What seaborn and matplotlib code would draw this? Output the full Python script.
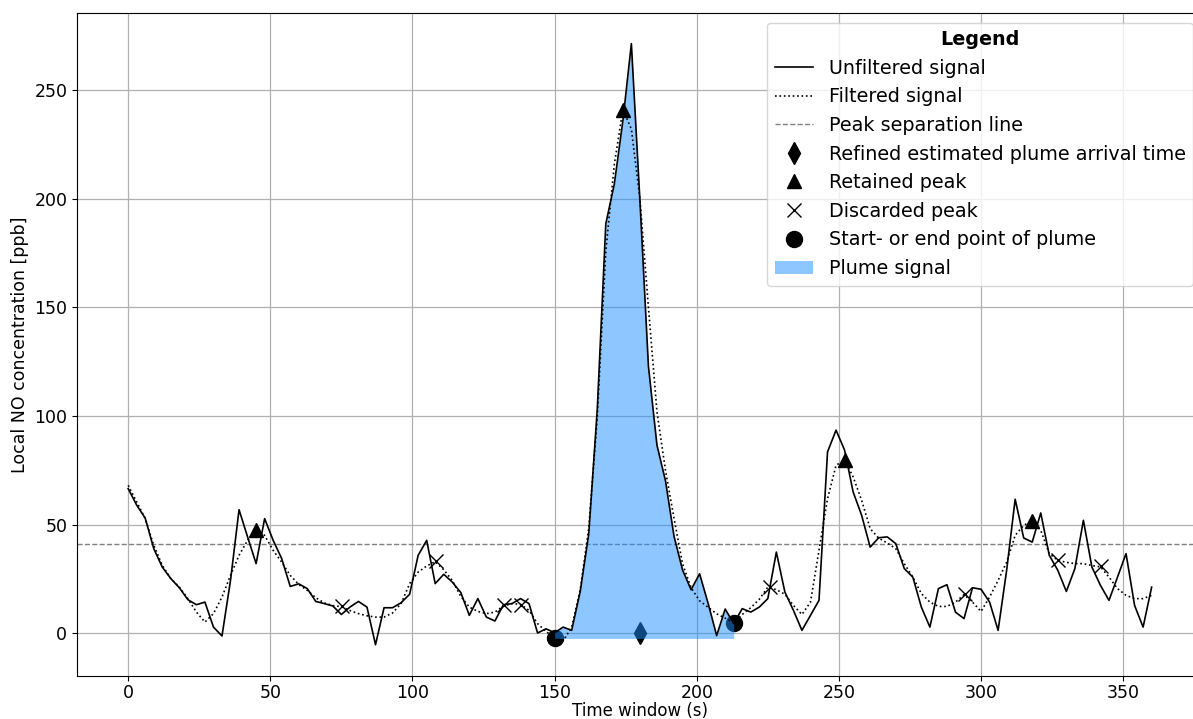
import numpy as np
import pandas as pd
import matplotlib
matplotlib.use("Agg")
import matplotlib.pyplot as plt
import seaborn as sns
from matplotlib.lines import Line2D
from matplotlib.patches import Patch

# Time axis (s), one sample every 3 s
time_s = np.arange(0, 361, 3)

# Raw NO measurement [ppb]
unfiltered = [
    66.6, 59.0, 53.0, 39.0, 30.5, 25.2, 21.0, 15.5, 13.2, 14.4,
    2.9, -1.2, 24.4, 56.9, 44.4, 32.1, 52.8, 42.8, 34.4, 21.6,
    22.8, 20.6, 14.7, 13.7, 12.6, 8.7, 12.1, 14.7, 12.1, -5.2,
    11.8, 11.8, 14.1, 18.0, 35.9, 42.8, 22.9, 27.2, 23.6, 18.8,
    8.3, 16.0, 7.5, 5.7, 13.2, 13.7, 16.0, 13.7, 0.2, 2.1,
    0.3, 2.9, 1.4, 19.2, 45.6, 103.0, 188.4, 206.7, 235.7, 271.3,
    199.4, 122.9, 86.6, 70.2, 44.7, 29.2, 20.1, 27.4, 13.8, -1.0,
    11.2, 4.5, 11.4, 9.8, 12.1, 16.0, 37.4, 19.0, 10.6, 1.4,
    8.3, 15.2, 83.5, 93.5, 84.3, 65.1, 54.3, 39.7, 44.0, 44.4,
    41.3, 29.8, 25.9, 12.1, 2.9, 20.6, 22.4, 9.8, 6.8, 21.0,
    20.3, 14.4, 1.4, 29.0, 61.7, 43.9, 42.0, 55.4, 35.9, 29.0,
    19.3, 29.8, 52.0, 30.5, 22.1, 15.2, 25.9, 36.7, 12.9, 2.9,
    21.3,
]

# Smoothed NO signal [ppb]
filtered = [
    68.1, 60.5, 52.8, 40.5, 31.3, 25.2, 21.3, 16.0, 9.8, 5.2,
    9.1, 16.7, 26.7, 35.9, 42.8, 47.6, 45.1, 38.2, 32.8, 26.7,
    22.5, 19.8, 16.4, 14.0, 12.8, 12.3, 10.5, 9.1, 8.1, 7.5,
    7.5, 9.4, 13.7, 22.9, 28.2, 31.0, 33.0, 29.3, 24.4, 17.0,
    12.1, 10.1, 9.1, 9.8, 12.6, 13.7, 13.4, 10.6, 4.5, 0.9,
    -2.3, -3.5, 2.9, 20.0, 48.3, 99.3, 175.7, 215.7, 241.0, 232.0,
    200.0, 150.0, 102.0, 75.0, 53.0, 32.0, 21.0, 15.0, 12.0, 9.0,
    7.0, 5.0, 8.7, 11.8, 15.7, 21.3, 20.1, 18.0, 12.9, 8.7,
    14.4, 38.2, 62.0, 77.3, 79.9, 72.0, 61.2, 48.2, 43.8, 41.6,
    39.0, 32.1, 25.9, 18.3, 14.4, 12.4, 12.4, 14.4, 17.8, 14.4,
    10.1, 16.7, 24.4, 32.8, 45.1, 49.7, 51.8, 47.4, 36.7, 33.6,
    32.7, 32.1, 32.1, 31.2, 30.6, 25.9, 20.6, 17.5, 16.0, 16.0,
    17.5,
]

# Threshold used to split peaks [ppb]
separation_level = 41.0

# Retained and discarded peaks of the smoothed signal
retained_t = [45, 174, 252, 318]
retained_c = [47.6, 241.0, 79.9, 51.8]
discarded_t = [75.3, 108.3, 132.1, 138.2, 225.6, 294.2, 327.2, 342.2]
discarded_c = [12.6, 33.2, 13.2, 13.2, 21.5, 18.0, 33.6, 31.0]

# Plume start / end and refined arrival time
plume_edge_t = [150, 213]
plume_edge_c = [-2.3, 5.0]
arrival_t = [180]
arrival_c = [0.0]

df = pd.DataFrame({"time": time_s, "raw": unfiltered, "smooth": filtered})

fig = plt.figure(figsize=(11.93, 7.19), dpi=100)
ax = fig.add_axes([77 / 1193, 43 / 719, 1125.8 / 1193, 663 / 719])

ax.grid(True, color="#b0b0b0", linewidth=0.9)
ax.set_axisbelow(True)

sns.lineplot(data=df, x="time", y="raw", ax=ax, color="black",
             linewidth=1.2, estimator=None, zorder=3)
sns.lineplot(data=df, x="time", y="smooth", ax=ax, color="black",
             linewidth=1.2, linestyle=":", estimator=None, zorder=3)
ax.axhline(separation_level, color="gray", linestyle="--", linewidth=1.0, zorder=2)

ax.plot(arrival_t, arrival_c, linestyle="none", marker="d", color="black",
        markersize=11, zorder=2)
ax.plot(retained_t, retained_c, linestyle="none", marker="^", color="black",
        markersize=10, zorder=4)
ax.plot(discarded_t, discarded_c, linestyle="none", marker="x", color="black",
        markersize=10, markeredgewidth=1.0, zorder=4)
ax.plot(plume_edge_t, plume_edge_c, linestyle="none", marker="o", color="black",
        markersize=11.5, zorder=2)

# Plume area between the raw signal and the start level
t_arr = np.asarray(time_s)
raw_arr = np.asarray(unfiltered)
sel = (t_arr >= plume_edge_t[0]) & (t_arr <= plume_edge_t[1])
ax.fill_between(t_arr[sel], raw_arr[sel], plume_edge_c[0], color="dodgerblue",
                alpha=0.5, linewidth=0, zorder=2.5)

ax.set_xlim(-18, 378)
ax.set_ylim(-19.6, 285.4)
ax.set_xticks(np.arange(0, 351, 50))
ax.set_yticks(np.arange(0, 251, 50))
ax.tick_params(labelsize=12.5)
ax.tick_params(axis="x", pad=2.5)
ax.set_xlabel("Time window (s)", fontsize=12, labelpad=0)
ax.set_ylabel("Local NO concentration [ppb]", fontsize=12.5)

handles = [
    Line2D([], [], color="black", linewidth=1.2, label="Unfiltered signal"),
    Line2D([], [], color="black", linewidth=1.2, linestyle=":", label="Filtered signal"),
    Line2D([], [], color="gray", linewidth=1.0, linestyle="--", label="Peak separation line"),
    Line2D([], [], color="black", marker="d", linestyle="none", markersize=11,
           label="Refined estimated plume arrival time"),
    Line2D([], [], color="black", marker="^", linestyle="none", markersize=10,
           label="Retained peak"),
    Line2D([], [], color="black", marker="x", linestyle="none", markersize=10,
           label="Discarded peak"),
    Line2D([], [], color="black", marker="o", linestyle="none", markersize=11.5,
           label="Start- or end point of plume"),
    Patch(facecolor="dodgerblue", alpha=0.5, edgecolor="none", label="Plume signal"),
]
leg = ax.legend(handles=handles, loc="upper right", title="Legend",
                fontsize=13.8, labelspacing=0.5,
                title_fontproperties={"weight": "bold", "size": 13.8})

fig.savefig("out.png", dpi=100)
